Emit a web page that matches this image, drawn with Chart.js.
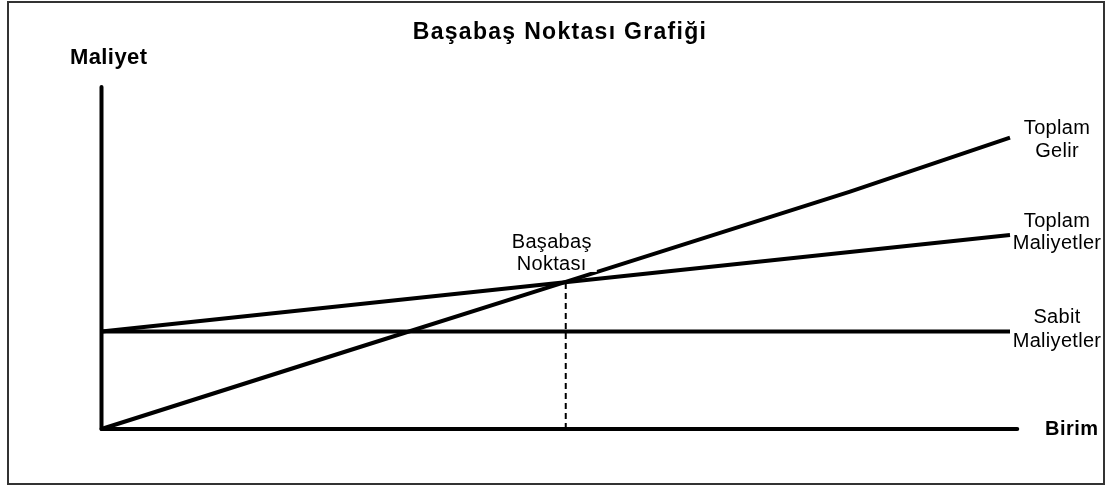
<!DOCTYPE html>
<html>
<head>
<meta charset="utf-8">
<script src="https://cdn.jsdelivr.net/npm/chart.js@4/dist/chart.umd.min.js"></script>
<style>
  html, body { margin: 0; padding: 0; background: #fff; }
  #wrap { position: relative; width: 1108px; height: 490px; }
  #frame { position: absolute; left: 7px; top: 1px; width: 1094px; height: 480px; border: 2px solid #333; pointer-events: none; }
  canvas { position: absolute; left: 0; top: 0; }
</style>
</head>
<body>
<div id="wrap">
  <canvas id="c" width="1108" height="490"></canvas>
  <div id="frame"></div>
</div>
<script>
// --- data (units along x: Birim, along y: Maliyet) ---
const chartTitle = "Başabaş Noktası Grafiği";
const yAxisTitle = "Maliyet";
const xAxisTitle = "Birim";

const revenueX = [0, 27.4, 51.1, 82.4, 100];
const revenueY = [0, 23.1, 43.0, 69.4, 85.2];

const totalCostX = [0, 100];
const totalCostY = [28.5, 56.7];

const fixedCostX = [0, 100];
const fixedCostY = [28.5, 28.5];

const breakEvenX = 51.1;
const breakEvenY = 43.0;

const xAxisMax = 100.8;
const yAxisMax = 100;

const revenueLabel = ["Toplam", "Gelir"];
const totalCostLabel = ["Toplam", "Maliyetler"];
const fixedCostLabel = ["Sabit", "Maliyetler"];
const breakEvenLabel = ["Başabaş", "Noktası"];

// --- build datasets ---
const pts = (xs, ys) => xs.map((x, i) => ({ x: x, y: ys[i] }));
const lineStyle = { showLine: true, borderColor: '#000', borderWidth: 4, pointRadius: 0, fill: false, clip: false, tension: 0 };

const datasets = [
  Object.assign({ label: 'yAxis', data: pts([0, 0], [0, yAxisMax]), borderCapStyle: 'round' }, lineStyle),
  Object.assign({ label: 'xAxis', data: pts([0, xAxisMax], [0, 0]), borderCapStyle: 'round' }, lineStyle),
  Object.assign({ label: 'Sabit Maliyetler', data: pts(fixedCostX, fixedCostY) }, lineStyle),
  Object.assign({ label: 'Toplam Maliyetler', data: pts(totalCostX, totalCostY) }, lineStyle),
  Object.assign({ label: 'Toplam Gelir', data: pts(revenueX, revenueY) }, lineStyle),
  Object.assign({}, lineStyle, { label: 'Başabaş', data: pts([breakEvenX, breakEvenX], [0, breakEvenY]), borderWidth: 2, borderDash: [6, 4] })
];

function drawLines(ctx, lines, cx, cy, lh, font, spacing) {
  ctx.font = font;
  if ('letterSpacing' in ctx) ctx.letterSpacing = (spacing || 0) + 'px';
  ctx.textAlign = 'center';
  ctx.textBaseline = 'middle';
  ctx.fillStyle = '#000';
  lines.forEach((t, i) => ctx.fillText(t, cx, cy + i * lh));
}

const labelsPlugin = {
  id: 'labels',
  afterDatasetsDraw(chart) {
    const ctx = chart.ctx;
    const xs = chart.scales.x, ys = chart.scales.y;
    ctx.save();
    const reg = '20px "Liberation Sans", Arial, sans-serif';
    const rightX = xs.getPixelForValue(100) + 47;
    // title
    drawLines(ctx, [chartTitle], 560, 33, 0, 'bold 23px "Liberation Sans", Arial, sans-serif', 1.3);
    // axis titles
    ctx.fillStyle = '#000';
    ctx.textAlign = 'left'; ctx.textBaseline = 'middle';
    ctx.font = 'bold 22px "Liberation Sans", Arial, sans-serif';
    if ('letterSpacing' in ctx) ctx.letterSpacing = '0.4px';
    ctx.fillText(yAxisTitle, 70, 58);
    ctx.font = 'bold 20px "Liberation Sans", Arial, sans-serif';
    if ('letterSpacing' in ctx) ctx.letterSpacing = '0.5px';
    ctx.fillText(xAxisTitle, 1045, ys.getPixelForValue(0));
    // line labels
    drawLines(ctx, revenueLabel, rightX, ys.getPixelForValue(revenueY[revenueY.length - 1]) - 9, 22.5, reg, 0.3);
    drawLines(ctx, totalCostLabel, rightX, ys.getPixelForValue(totalCostY[totalCostY.length - 1]) - 14, 22, reg, 0.3);
    drawLines(ctx, fixedCostLabel, rightX, ys.getPixelForValue(fixedCostY[fixedCostY.length - 1]) - 14.5, 24.5, reg, 0.3);
    // break-even label with white box
    const bx = xs.getPixelForValue(breakEvenX), by = ys.getPixelForValue(breakEvenY);
    ctx.fillStyle = '#fff';
    ctx.fillRect(bx - 62, by - 58, 93, 48);
    drawLines(ctx, breakEvenLabel, bx - 14, by - 39.5, 22, reg, 0.3);
    ctx.restore();
  }
};

new Chart(document.getElementById('c'), {
  type: 'scatter',
  data: { datasets: datasets },
  options: {
    responsive: false,
    animation: false,
    events: [],
    layout: { padding: { left: 101.5, right: 98, top: 87, bottom: 61 } },
    plugins: { legend: { display: false }, tooltip: { enabled: false }, title: { display: false } },
    scales: {
      x: { type: 'linear', display: false, min: 0, max: 100 },
      y: { type: 'linear', display: false, min: 0, max: yAxisMax }
    }
  },
  plugins: [labelsPlugin]
});
</script>
</body>
</html>
